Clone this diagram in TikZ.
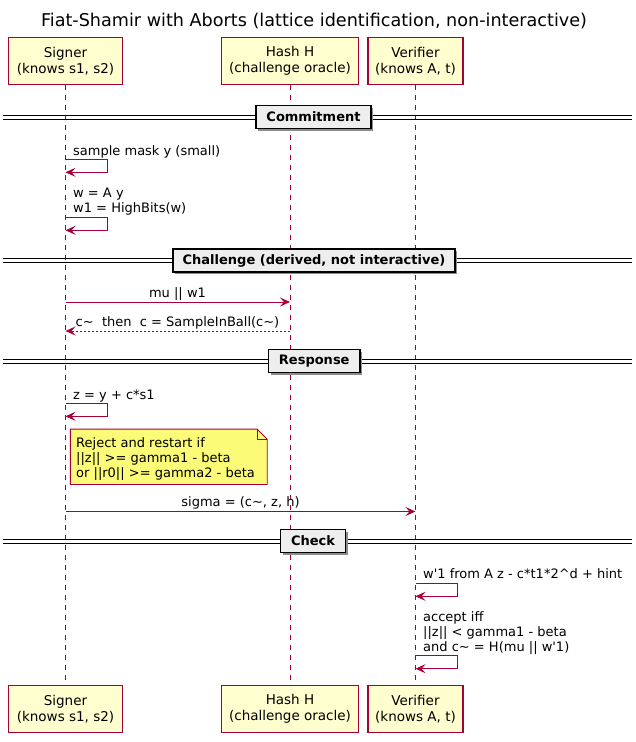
\documentclass[tikz,border=0pt]{standalone}
\usepackage{fontspec}
\setmainfont{DejaVu Sans}
\usetikzlibrary{arrows.meta}
\definecolor{pu}{HTML}{A80036}
\definecolor{pubox}{HTML}{FEFECE}
\definecolor{punote}{HTML}{FBFB77}
\definecolor{pudiv}{HTML}{EEEEEE}
\tikzset{
  part/.style={draw=pu, fill=pubox, line width=1.1pt, align=center, inner sep=0pt,
    minimum height=47pt, font=\fontsize{13.5}{16}\selectfont},
  life/.style={draw=pu, line width=0.8pt, dash pattern=on 5pt off 5pt},
  msg/.style={draw=pu, line width=1pt, -{Stealth[length=10pt,width=9pt,inset=4pt]}},
  ret/.style={msg, dash pattern=on 2pt off 2pt},
  lbl/.style={inner sep=0pt, font=\fontsize{13}{15}\selectfont},
  divbox/.style={draw=black, fill=pudiv, line width=1.6pt, inner sep=0pt,
    minimum height=23pt, font=\bfseries\fontsize{13}{15}\selectfont},
  divline/.style={draw=black, line width=0.9pt},
}
\begin{document}
\begin{tikzpicture}[x=1pt,y=-1pt]
\useasboundingbox (0,0) rectangle (635,742);
\fill[white] (0,0) rectangle (635,742);
% title
\node[inner sep=0pt, font=\fontsize{17.6}{20}\selectfont] (title) at (314,21) {Fiat-Shamir with Aborts (lattice identification, non-interactive)};
% participants
\node[part, minimum width=114.6pt] (s1) at (65.5,60.8) {Signer\\(knows s1, s2)};
\node[part, minimum width=137pt] (h1) at (290,60.8) {Hash H\\(challenge oracle)};
\node[part, minimum width=95pt] (v1) at (415.5,60.8) {Verifier\\(knows A, t)};
\node[part, minimum width=114.6pt] (s2) at (65.5,709.2) {Signer\\(knows s1, s2)};
\node[part, minimum width=137pt] (h2) at (290,709.2) {Hash H\\(challenge oracle)};
\node[part, minimum width=95pt] (v2) at (415.5,709.2) {Verifier\\(knows A, t)};
\draw[life] (s1.south) -- (s2.north);
\draw[life] (h1.south) -- (h2.north);
\draw[life] (v1.south) -- (v2.north);
% dividers
\foreach \yy/\xc/\ww/\nm/\tx in {
  117/313.5/115/dA/Commitment,
  260.5/314/282/dB/{Challenge (derived, not interactive)},
  361/314.25/91.5/dC/Response,
  541/313/65/dD/Check}{
  \draw[divline] (3,\yy-2) -- (632,\yy-2);
  \draw[divline] (3,\yy+2) -- (632,\yy+2);
  \fill[black!45] (\xc-\ww/2+2,\yy-11.5+2) rectangle (\xc+\ww/2+2,\yy+11.5+2);
  \node[divbox, minimum width=\ww pt] (\nm) at (\xc,\yy) {\tx};
}
% Commitment
\node[lbl, anchor=base west] (t1) at (73,155.2) {sample mask y (small)};
\draw[msg] (s1.south |- 0,159.3) -- ++(42,0) -- ++(0,13) -- ++(-42,0);
\node[lbl, anchor=base west] (t2) at (73,197.2) {w = A y};
\node[lbl, anchor=base west] (t3) at (73,212.2) {w1 = HighBits(w)};
\draw[msg] (s1.south |- 0,217.3) -- ++(42,0) -- ++(0,13) -- ++(-42,0);
% Challenge
\node[lbl, anchor=base] (t4) at (177.5,297.5) {mu || w1};
\draw[msg] (s1.south |- 0,302) -- (h1.south |- 0,302);
\node[lbl, anchor=base] (t5) at (177.5,326.5) {c\textasciitilde\ \ then\ \ c = SampleInBall(c\textasciitilde)};
\draw[ret] (h1.south |- 0,331) -- (s1.south |- 0,331);
% Response
\node[lbl, anchor=base west] (t6) at (73,399.5) {z = y + c*s1};
\draw[msg] (s1.south |- 0,403.3) -- ++(42,0) -- ++(0,13) -- ++(-42,0);
\node[inner sep=0pt, minimum width=196.5pt, minimum height=55pt] (note) at (168.75,456.8) {};
\draw[pu, fill=punote, line width=0.9pt] (note.north west) -- ([xshift=-10pt]note.north east) -- ([yshift=-10pt]note.north east) -- (note.south east) -- (note.south west) -- cycle;
\draw[pu, line width=0.9pt] ([xshift=-10pt]note.north east) -- ([xshift=-10pt,yshift=-10pt]note.north east) -- ([yshift=-10pt]note.north east);
\node[lbl, anchor=base west] (n1) at (76,447.2) {Reject and restart if};
\node[lbl, anchor=base west] (n2) at (76,462.2) {||z|| >= gamma1 - beta};
\node[lbl, anchor=base west] (n3) at (76,477.2) {or ||r0|| >= gamma2 - beta};
\node[lbl, anchor=base] (t7) at (240.5,506.2) {sigma = (c\textasciitilde, z, h)};
\draw[msg] (s1.south |- 0,511.5) -- (v1.south |- 0,511.5);
% Check
\node[lbl, anchor=base west] (t8) at (423,578.5) {w\textquotesingle 1 from A z - c*t1*2\textasciicircum d + hint};
\draw[msg] (v1.south |- 0,583.3) -- ++(42,0) -- ++(0,13) -- ++(-42,0);
\node[lbl, anchor=base west] (t9) at (423,621.2) {accept iff};
\node[lbl, anchor=base west] (t10) at (423,636.2) {||z|| < gamma1 - beta};
\node[lbl, anchor=base west] (t11) at (423,651.2) {and c\textasciitilde\ = H(mu || w\textquotesingle 1)};
\draw[msg] (v1.south |- 0,655.7) -- ++(42,0) -- ++(0,13) -- ++(-42,0);
\end{tikzpicture}
\end{document}
